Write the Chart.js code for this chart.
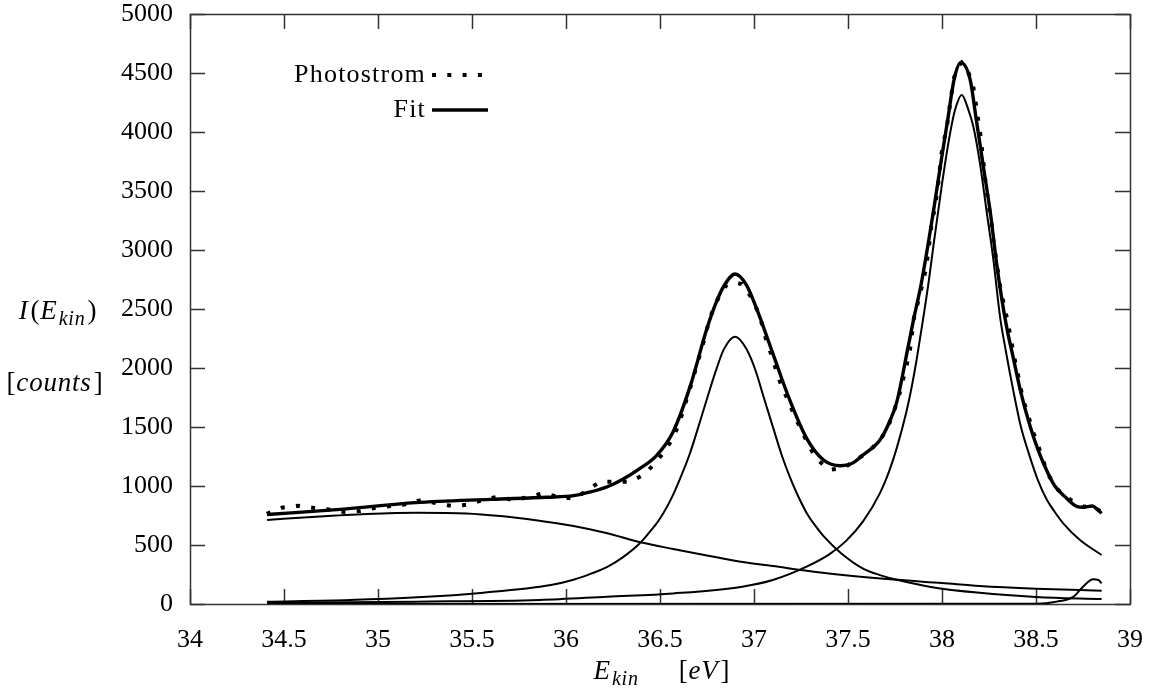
<!DOCTYPE html>
<html>
<head>
<meta charset="utf-8">
<script src="https://cdn.jsdelivr.net/npm/chart.js@4.4.0/dist/chart.umd.min.js"></script>
<style>
  html, body { margin: 0; padding: 0; background: #fff; }
  #wrap { width: 1156px; height: 693px; position: relative; }
</style>
</head>
<body>
<div id="wrap"><canvas id="myChart"></canvas></div>
<script>
// axis ticks
const xTicks = [34, 34.5, 35, 35.5, 36, 36.5, 37, 37.5, 38, 38.5, 39]
const yTicks = [0, 500, 1000, 1500, 2000, 2500, 3000, 3500, 4000, 4500, 5000]

// Photostrom (measured) -- E_kin [eV] / counts
const photoE = [34.408, 34.489, 34.573, 34.653, 34.736, 34.819, 34.904, 34.982, 35.064, 35.149,
  35.230, 35.312, 35.395, 35.475, 35.555, 35.637, 35.720, 35.799, 35.876, 35.959,
  36.039, 36.112, 36.181, 36.261, 36.344, 36.420, 36.477, 36.530, 36.573, 36.605,
  36.630, 36.656, 36.678, 36.704, 36.727, 36.748, 36.775, 36.812, 36.851, 36.893,
  36.934, 36.984, 37.018, 37.046, 37.067, 37.096, 37.121, 37.149, 37.185, 37.216,
  37.254, 37.289, 37.333, 37.401, 37.479, 37.543, 37.613, 37.674, 37.714, 37.745,
  37.771, 37.791, 37.812, 37.830, 37.840, 37.851, 37.875, 37.897, 37.915, 37.925,
  37.936, 37.945, 37.963, 37.975, 37.986, 37.993, 38.007, 38.025, 38.037, 38.049,
  38.060, 38.085, 38.105, 38.130, 38.163, 38.176, 38.188, 38.202, 38.211, 38.220,
  38.229, 38.241, 38.252, 38.264, 38.273, 38.286, 38.299, 38.312, 38.330, 38.349,
  38.365, 38.379, 38.397, 38.415, 38.432, 38.459, 38.482, 38.512, 38.538, 38.565,
  38.619, 38.685, 38.752, 38.800, 38.849]
const photoI = [763, 816, 833, 816, 802, 780, 788, 814, 830, 845,
  881, 853, 830, 842, 881, 909, 881, 904, 938, 908,
  893, 960, 1037, 1037, 1037, 1102, 1201, 1305, 1421, 1542,
  1680, 1805, 1926, 2068, 2195, 2322, 2463, 2600, 2698, 2725,
  2712, 2604, 2486, 2356, 2223, 2096, 1963, 1836, 1714, 1588,
  1469, 1347, 1229, 1136, 1155, 1220, 1297, 1395, 1508, 1636,
  1763, 1893, 2025, 2158, 2290, 2428, 2575, 2718, 2845, 2970,
  3099, 3226, 3367, 3508, 3636, 3777, 3904, 4031, 4170, 4305,
  4441, 4555, 4590, 4545, 4413, 4285, 4144, 4008, 3875, 3748,
  3607, 3466, 3339, 3212, 3085, 2943, 2800, 2661, 2534, 2393,
  2260, 2130, 1997, 1856, 1729, 1596, 1469, 1342, 1215, 1093,
  966, 881, 825, 828, 780]

// Fit (sum)
const fitE = [34.41, 34.8, 35.2, 35.6, 35.9, 36.04, 36.13, 36.22, 36.30, 36.39,
  36.48, 36.57, 36.66, 36.75, 36.80, 36.84, 36.90, 36.96, 37.01, 37.10,
  37.19, 37.28, 37.37, 37.46, 37.52, 37.58, 37.67, 37.72, 37.76, 37.82,
  37.85, 37.89, 37.95, 38.00, 38.03, 38.065, 38.10, 38.15, 38.18, 38.22,
  38.26, 38.29, 38.34, 38.38, 38.42, 38.47, 38.51, 38.56, 38.60, 38.65,
  38.72, 38.75, 38.80, 38.82, 38.849]
const fitI = [758, 802, 859, 887, 905, 918, 950, 994, 1055, 1145,
  1255, 1460, 1842, 2336, 2560, 2695, 2797, 2703, 2520, 2124,
  1729, 1404, 1220, 1172, 1190, 1263, 1390, 1540, 1715, 2181,
  2420, 2718, 3283, 3800, 4100, 4450, 4588, 4441, 4130, 3706,
  3283, 2890, 2380, 2080, 1790, 1500, 1310, 1120, 1000, 915,
  825, 820, 831, 811, 768]

// fit components
const bgE = [34.41, 34.67, 34.94, 35.21, 35.47, 35.65, 35.83, 36.04, 36.22, 36.39,
  36.57, 36.75, 36.93, 37.10, 37.28, 37.46, 37.76, 38.00, 38.20, 38.50, 38.849]
const bgI = [712, 740, 763, 774, 768, 746, 712, 661, 599, 525,
  466, 411, 358, 322, 282, 248, 205, 178, 153, 130, 113]

const peak1E = [34.41, 34.85, 35.21, 35.56, 35.92, 36.04, 36.13, 36.22, 36.30, 36.39,
  36.45, 36.485, 36.52, 36.565, 36.61, 36.66, 36.70, 36.75, 36.80, 36.84,
  36.90, 36.96, 37.01, 37.05, 37.10, 37.15, 37.19, 37.23, 37.28, 37.33,
  37.37, 37.46, 37.58, 37.67, 37.76, 37.94, 38.20, 38.50, 38.849]
const peak1I = [20, 34, 57, 96, 161, 205, 255, 315, 393, 510,
  620, 690, 775, 910, 1075, 1280, 1480, 1740, 1990, 2160,
  2265, 2160, 1970, 1760, 1503, 1250, 1079, 930, 772, 655,
  575, 435, 300, 245, 205, 145, 95, 60, 42]

const peak2E = [34.41, 35.2, 35.86, 36.22, 36.57, 36.93, 37.10, 37.28, 37.40, 37.49,
  37.58, 37.67, 37.72, 37.76, 37.81, 37.84, 37.865, 37.90, 37.93, 37.954,
  38.00, 38.043, 38.07, 38.105, 38.14, 38.167, 38.202, 38.238, 38.273, 38.31,
  38.34, 38.379, 38.42, 38.468, 38.51, 38.557, 38.60, 38.645, 38.734, 38.849]
const peak2I = [10, 20, 34, 62, 90, 145, 203, 316, 420, 535,
  700, 940, 1130, 1325, 1625, 1850, 2070, 2420, 2740, 3030,
  3560, 3989, 4190, 4314, 4190, 4045, 3734, 3320, 2920, 2420,
  2140, 1810, 1500, 1245, 1050, 885, 780, 684, 542, 415]

const bumpE = [34.41, 38.50, 38.61, 38.70, 38.75, 38.805, 38.832, 38.849]
const bumpI = [0, 2, 20, 62, 147, 209, 203, 175]

const pts = (xs, ys) => xs.map((v, i) => ({x: v, y: ys[i]}))
const SERIF = "'Liberation Serif', 'Times New Roman', serif"

Chart.defaults.font.family = SERIF
Chart.defaults.font.size = 26
Chart.defaults.color = '#000'

function thin(xs, ys) {
    return {
        label: '', data: pts(xs, ys), showLine: true, pointRadius: 0,
        borderColor: '#000', borderWidth: 2, cubicInterpolationMode: 'monotone'
    }
}

// draws "runs" of text: plain, italic, subscript
function drawRuns(ctx, runs, cx, cy) {
    const fontOf = r => (r.it ? 'italic ' : '') + (r.sub ? '20px ' : '27px ') + SERIF
    ctx.letterSpacing = '0.8px'
    let w = 0
    runs.forEach(r => {
        if (r.gap) { w += r.gap; return }
        ctx.font = fontOf(r)
        r.w = ctx.measureText(r.t).width + (r.pad || 0)
        w += r.w
    })
    let x = cx - w / 2
    ctx.textBaseline = 'alphabetic'
    ctx.textAlign = 'left'
    runs.forEach(r => {
        if (r.gap) { x += r.gap; return }
        ctx.font = fontOf(r)
        ctx.fillText(r.t, x, cy + 9 + (r.sub ? 6 : 0))
        x += r.w
    })
    ctx.letterSpacing = '0px'
}

const frame = {
    id: 'frame',
    beforeDatasetsDraw(chart) {
        const {ctx, chartArea: a, scales: {x, y}} = chart
        ctx.save()
        ctx.strokeStyle = '#333'
        ctx.lineWidth = 1.5
        ctx.beginPath()
        xTicks.forEach(v => {
            const px = Math.round(x.getPixelForValue(v)) + 0.5
            ctx.moveTo(px, a.bottom); ctx.lineTo(px, a.bottom - 15)
            ctx.moveTo(px, a.top); ctx.lineTo(px, a.top + 15)
        })
        yTicks.forEach(v => {
            const py = Math.round(y.getPixelForValue(v)) + 0.5
            ctx.moveTo(a.left, py); ctx.lineTo(a.left + 15, py)
            ctx.moveTo(a.right, py); ctx.lineTo(a.right - 15, py)
        })
        ctx.stroke()
        ctx.strokeRect(a.left + 0.5, a.top + 0.5, a.right - a.left, a.bottom - a.top)
        ctx.restore()
    },
    afterDraw(chart) {
        const {ctx, chartArea: a} = chart
        ctx.save()
        ctx.fillStyle = '#000'
        // legend: text on the left, sample on the right
        ;[0, 1].forEach(i => {
            const ds = chart.data.datasets[i]
            const yy = a.top + 61 + i * 35
            ctx.font = '26px ' + SERIF
            ctx.letterSpacing = '1.2px'
            ctx.textAlign = 'right'
            ctx.textBaseline = 'middle'
            ctx.fillText(ds.label, a.left + 236, yy)
            ctx.letterSpacing = '0px'
            ctx.strokeStyle = ds.borderColor
            ctx.lineWidth = ds.borderWidth
            ctx.lineCap = 'butt'
            ctx.setLineDash(ds.borderDash || [])
            ctx.beginPath()
            ctx.moveTo(a.left + 242, yy)
            ctx.lineTo(a.left + 298, yy)
            ctx.stroke()
        })
        ctx.setLineDash([])
        // axis titles
        const xc = (a.left + a.right) / 2 + 2
        const yc = chart.scales.y.getPixelForValue(2500)
        drawRuns(ctx, [{t: 'E', it: 1, pad: 1}, {t: 'kin', it: 1, sub: 1}, {gap: 40}, {t: '['}, {t: 'eV', it: 1, pad: 2}, {t: ']'}], xc, a.bottom + 66)
        drawRuns(ctx, [{t: 'I', it: 1, pad: 2}, {t: '('}, {t: 'E', it: 1, pad: 1}, {t: 'kin', it: 1, sub: 1, pad: 2}, {t: ')'}], 58, yc + 1)
        drawRuns(ctx, [{t: '['}, {t: 'counts', it: 1, pad: 2}, {t: ']'}], 55, yc + 73)
        ctx.restore()
    }
}

var ctx = document.getElementById('myChart').getContext('2d')
var myChart = new Chart(ctx, {
    type: 'scatter',
    data: {
        datasets: [{
            label: 'Photostrom',
            data: pts(photoE, photoI),
            showLine: true,
            pointRadius: 0,
            borderColor: '#000',
            borderWidth: 4,
            borderDash: [4, 11.3],
            borderCapStyle: 'butt',
            tension: 0
        }, {
            label: 'Fit',
            data: pts(fitE, fitI),
            showLine: true,
            pointRadius: 0,
            borderColor: '#000',
            borderWidth: 3.4,
            cubicInterpolationMode: 'monotone'
        },
        thin(bgE, bgI),
        thin(peak1E, peak1I),
        thin(peak2E, peak2I),
        thin(bumpE, bumpI)]
    },
    options: {
        animation: false,
        responsive: true,
        maintainAspectRatio: false,
        events: [],
        layout: { padding: { top: 14, right: 26, left: 0, bottom: 0 } },
        plugins: { legend: { display: false }, tooltip: { enabled: false } },
        scales: {
            x: {
                type: 'linear', min: 34, max: 39,
                afterBuildTicks: s => { s.ticks = xTicks.map(v => ({value: v})) },
                ticks: { padding: 21, maxRotation: 0, autoSkip: false, callback: v => String(v) },
                grid: { display: false, drawTicks: false },
                border: { display: false },
                afterFit: s => { s.height = 89; s.paddingLeft = 0; s.paddingRight = 0 }
            },
            y: {
                type: 'linear', min: 0, max: 5000,
                afterBuildTicks: s => { s.ticks = yTicks.map(v => ({value: v})) },
                ticks: { padding: 17, autoSkip: false, callback: v => String(v) },
                grid: { display: false, drawTicks: false },
                border: { display: false },
                afterFit: s => { s.width = 190; s.paddingTop = 0; s.paddingBottom = 0 }
            }
        }
    },
    plugins: [frame]
})
</script>
</body>
</html>
